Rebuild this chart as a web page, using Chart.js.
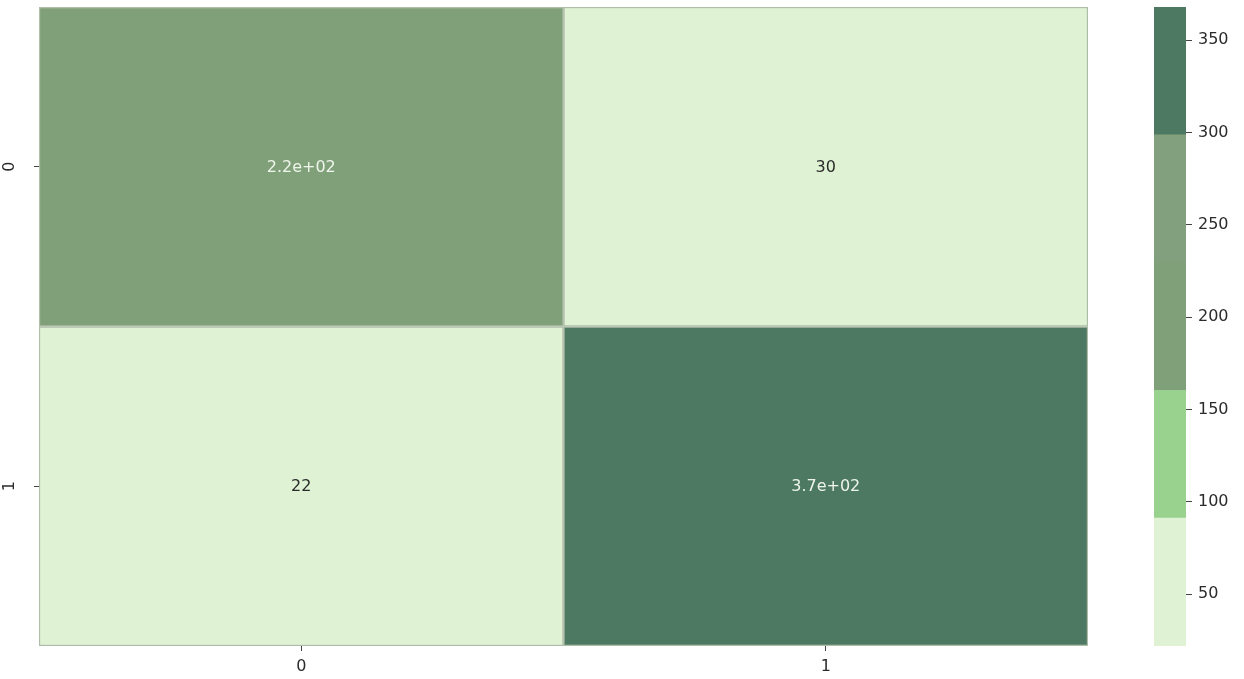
<!DOCTYPE html>
<html>
<head>
<meta charset="utf-8">
<script src="https://cdn.jsdelivr.net/npm/chart.js@4"></script>
<style>
  body { margin: 0; background: #fff; width: 1244px; height: 679px; overflow: hidden; position: relative; }
  #heat { position: absolute; left: 0; top: 0; }
  #bar { position: absolute; left: 1110px; top: 0; }
</style>
</head>
<body>
<canvas id="heat" width="1110" height="679"></canvas>
<canvas id="bar" width="134" height="679"></canvas>
<script>
// confusion matrix values
const colLabels = ['0', '1'];
const rowLabels = ['0', '1'];
const row0 = [218, 30];
const row1 = [22, 368];
const colorbarTicks = [50, 100, 150, 200, 250, 300, 350];
const palette = ['#dff3d4', '#98d28e', '#80a07a', '#82a07d', '#4d7862'];

const allValues = row0.concat(row1);
const vmin = Math.min(...allValues);
const vmax = Math.max(...allValues);
const step = (vmax - vmin) / palette.length;

function colorFor(v) {
    let i = Math.floor((v - vmin) / step);
    if (i >= palette.length) i = palette.length - 1;
    return palette[i];
}

function fmt(v) {
    // like matplotlib '.2g'
    let s = Number(v).toPrecision(2);
    if (s.includes('e')) {
        s = s.replace(/e([+-])(\d)$/, 'e$10$2');
    } else {
        s = String(parseFloat(s));
    }
    return s;
}

Chart.defaults.font.family = 'DejaVu Sans';
Chart.defaults.font.size = 16;
Chart.defaults.color = '#2b2b2b';

const rows = [row0, row1];

// no auto padding from tick labels
function noPad(s) {
    s.paddingTop = 0;
    s.paddingBottom = 0;
    s.paddingLeft = 0;
    s.paddingRight = 0;
}

// draw annotation text in the middle of every cell
const cellText = {
    id: 'cellText',
    afterDatasetsDraw(chart) {
        const ctx = chart.ctx;
        ctx.save();
        ctx.font = '16px DejaVu Sans';
        ctx.textAlign = 'center';
        ctx.textBaseline = 'middle';
        chart.data.datasets.forEach((ds, di) => {
            const meta = chart.getDatasetMeta(di);
            meta.data.forEach((el, i) => {
                const v = rows[di][i];
                const light = colorFor(v) === palette[0] || colorFor(v) === palette[1];
                ctx.fillStyle = light ? '#2b2b2b' : '#eef5ea';
                ctx.fillText(fmt(v), el.x, (el.y + el.base) / 2 + 1);
            });
        });
        ctx.restore();
    }
};

new Chart(document.getElementById('heat'), {
    type: 'bar',
    data: {
        labels: colLabels,
        datasets: rows.map((r, ri) => ({
            label: 'row ' + rowLabels[ri],
            data: r.map(() => [ri, ri + 1]),
            backgroundColor: r.map(colorFor),
            borderColor: '#aebca8',
            borderWidth: 1.5,
            borderSkipped: false,
            grouped: false,
            barPercentage: 1,
            categoryPercentage: 1
        }))
    },
    options: {
        responsive: false,
        animation: false,
        layout: { padding: { left: 0, right: 22, top: 7, bottom: 0 } },
        plugins: { legend: { display: false }, tooltip: { enabled: false } },
        scales: {
            x: {
                grid: { offset: false, drawOnChartArea: false, tickLength: 5, color: '#444' },
                border: { display: false },
                ticks: { padding: 6, maxRotation: 0 },
                afterFit: s => { s.height = 33; noPad(s); }
            },
            y: {
                min: 0,
                max: 2,
                reverse: true,
                grid: { drawOnChartArea: false, tickLength: 5, color: '#444' },
                border: { display: false },
                ticks: {
                    minRotation: 90,
                    maxRotation: 90,
                    crossAlign: 'center',
                    padding: 19,
                    callback: v => rowLabels[Math.floor(v)]
                },
                afterBuildTicks: s => { s.ticks = rowLabels.map((l, i) => ({ value: i + 0.5 })); },
                afterFit: s => { s.width = 39; noPad(s); }
            }
        }
    },
    plugins: [cellText]
});

// colour bar
const bandEdges = palette.map((c, i) => [vmin + i * step, vmin + (i + 1) * step]);

new Chart(document.getElementById('bar'), {
    type: 'bar',
    data: {
        labels: [''],
        datasets: palette.map((c, i) => ({
            data: [bandEdges[i]],
            backgroundColor: c,
            borderWidth: 0,
            grouped: false,
            barPercentage: 1,
            categoryPercentage: 1
        }))
    },
    options: {
        responsive: false,
        animation: false,
        layout: { padding: { left: 44, right: 0, top: 7, bottom: 33 } },
        plugins: { legend: { display: false }, tooltip: { enabled: false } },
        scales: {
            x: { display: false },
            y: {
                position: 'right',
                min: vmin,
                max: vmax,
                grid: { drawOnChartArea: false, tickLength: 6, color: '#444' },
                border: { display: false },
                ticks: { padding: 6 },
                afterBuildTicks: s => { s.ticks = colorbarTicks.map(v => ({ value: v })); },
                afterFit: s => { s.width = 58; noPad(s); }
            }
        }
    }
});
</script>
</body>
</html>
